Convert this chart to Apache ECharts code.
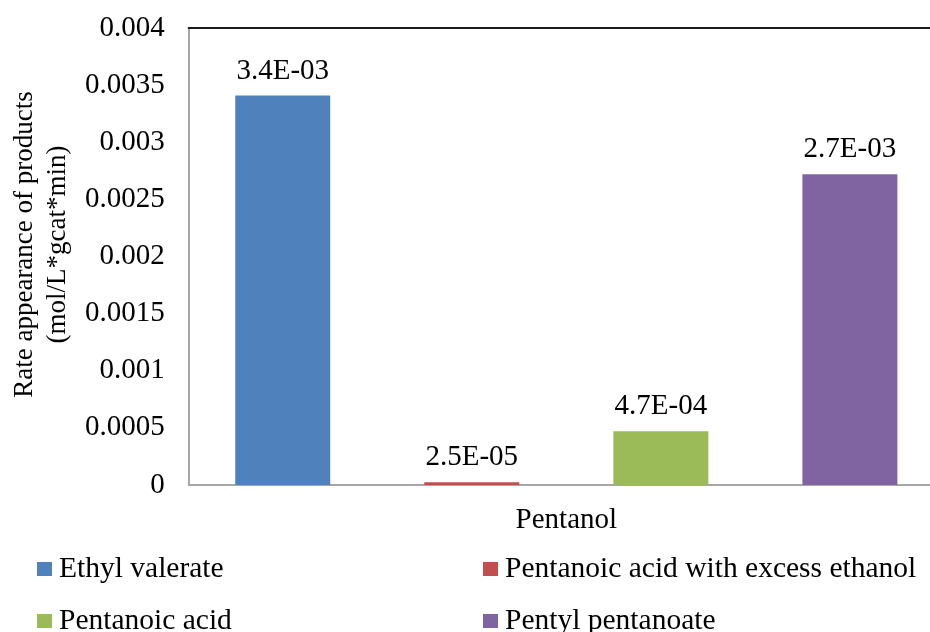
<!DOCTYPE html>
<html>
<head>
<meta charset="utf-8">
<script src="https://cdn.jsdelivr.net/npm/echarts@6/dist/echarts.min.js"></script>
<style>
  html, body { margin: 0; padding: 0; background: #fff; overflow: hidden; }
  /* the plot area runs slightly past the right edge of the window */
  #chart { width: 945px; height: 632px; }
</style>
</head>
<body>
<div id="chart"></div>
<script>
// Rate of appearance of products from pentanol
const categories = ['Pentanol'];
const seriesNames = ['Ethyl valerate', 'Pentanoic acid with excess ethanol', 'Pentanoic acid', 'Pentyl pentanoate'];
const ethylValerate = [0.00341];
const pentanoicAcidExcessEthanol = [0.000025];
const pentanoicAcid = [0.00047];
const pentylPentanoate = [0.00272];
const yTicks = ['0', '0.0005', '0.001', '0.0015', '0.002', '0.0025', '0.003', '0.0035', '0.004'];

const seriesValues = [ethylValerate, pentanoicAcidExcessEthanol, pentanoicAcid, pentylPentanoate];
const colors = ['#4F81BD', '#C0504D', '#9BBB59', '#8064A2'];
const FONT = '"Liberation Serif", "Times New Roman", serif';

// 3.4e-3 -> 3.4E-03
function sci(v) {
  const parts = v.toExponential(1).split('e');
  let exp = parseInt(parts[1], 10);
  const sign = exp < 0 ? '-' : '+';
  exp = Math.abs(exp);
  return parts[0] + 'E' + sign + (exp < 10 ? '0' + exp : '' + exp);
}

// legend laid out as a 2 x 2 grid: [left, top] per series
const legendSlots = [[32, 549], [478, 549], [32, 601], [478, 601]];

const chart = echarts.init(document.getElementById('chart'), null, { renderer: 'canvas' });

const option = {
  animation: false,
  backgroundColor: '#ffffff',
  textStyle: { fontFamily: FONT },
  grid: { left: 186, top: 28, width: 758, height: 457, containLabel: false },
  legend: seriesNames.map(function (name, i) {
    return {
      left: legendSlots[i][0], top: legendSlots[i][1],
      data: [name],
      icon: 'rect', itemWidth: 15, itemHeight: 14,
      textStyle: { fontFamily: FONT, fontSize: 29.5, color: '#000', lineHeight: 30, padding: [0, 0, 0, 2] }
    };
  }),
  xAxis: [
    {
      type: 'category',
      data: categories,
      position: 'bottom',
      axisLine: { lineStyle: { color: '#A6A6A6', width: 2 } },
      axisTick: { show: false },
      axisLabel: { fontFamily: FONT, fontSize: 29, color: '#000', margin: 21 }
    },
    {
      type: 'category',
      data: categories,
      position: 'top',
      axisLine: { lineStyle: { color: '#1a1a1a', width: 2 } },
      axisTick: { show: false },
      axisLabel: { show: false }
    }
  ],
  yAxis: {
    type: 'value',
    min: 0,
    max: 0.004,
    interval: 0.0005,
    name: 'Rate appearance of products\n(mol/L*gcat*min)',
    nameLocation: 'middle',
    nameGap: 113,
    nameTextStyle: {
      fontFamily: FONT, fontSize: 27, color: '#000', lineHeight: 33, align: 'center',
      padding: [0, 0, 0, 24]
    },
    axisLine: { show: true, lineStyle: { color: '#A6A6A6', width: 2 } },
    axisTick: { show: false },
    splitLine: { show: false },
    axisLabel: {
      fontFamily: FONT, fontSize: 29, color: '#000', margin: 24,
      formatter: function (v) {
        const i = Math.round(v / 0.0005);
        return yTicks[i] !== undefined ? yTicks[i] : String(v);
      }
    }
  },
  series: seriesNames.map(function (name, i) {
    return {
      name: name,
      type: 'bar',
      xAxisIndex: 0,
      data: seriesValues[i],
      barWidth: 95,
      barGap: '99%',
      itemStyle: { color: colors[i] },
      label: {
        show: true,
        position: 'top',
        distance: 10,
        fontFamily: FONT,
        fontSize: 29,
        color: '#000',
        formatter: function (p) { return sci(p.value); }
      }
    };
  })
};

chart.setOption(option);
</script>
</body>
</html>
